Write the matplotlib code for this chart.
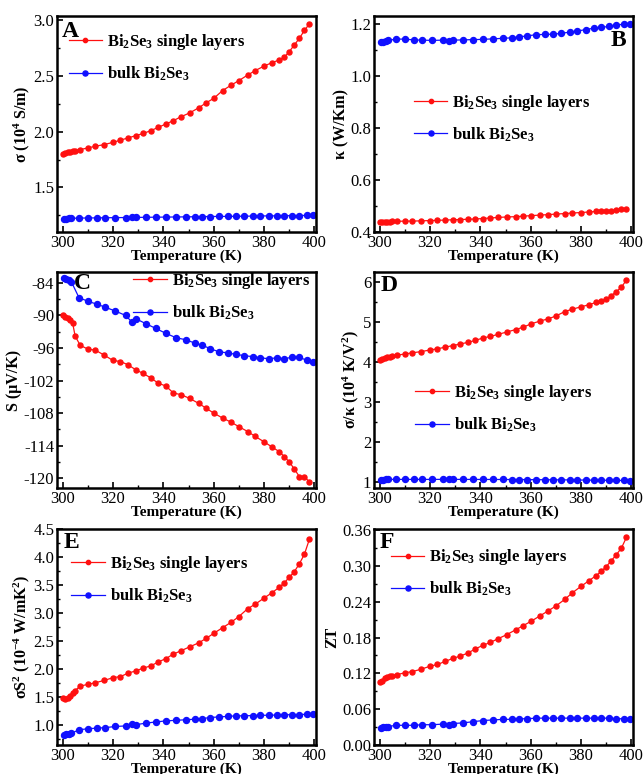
import numpy as np
import matplotlib
matplotlib.use("Agg")
import matplotlib.pyplot as plt
from matplotlib.ticker import MultipleLocator, AutoMinorLocator

plt.rcParams['font.family'] = ['Liberation Serif', 'DejaVu Serif']
plt.rcParams['mathtext.fontset'] = 'custom'
plt.rcParams['mathtext.rm'] = 'Liberation Serif'
plt.rcParams['mathtext.bf'] = 'Liberation Serif:bold'
plt.rcParams['mathtext.it'] = 'Liberation Serif:italic'
plt.rcParams['mathtext.default'] = 'bf'
plt.rcParams['axes.unicode_minus'] = False

## Data (temperature grids for the two samples)
T_layer = [300, 301, 302, 303, 304, 305, 307, 310, 313, 316.5, 320, 323, 326, 329, 332, 335,
           338, 341, 344, 347, 350.5, 354, 357, 360, 363.5, 367, 370, 373.5, 376.5, 380, 383,
           386, 388, 390, 392, 394, 396, 398]
T_bulk = [300.5, 301.5, 302.5, 303.5, 306.5, 310, 313.5, 317, 321, 325, 327.5, 329, 333, 337,
          341, 345, 349, 352.5, 355.5, 358.5, 362, 365.5, 369, 372, 375.5, 378.5, 382, 385,
          388, 391, 394, 397, 399.5]

# A: electrical conductivity (10^4 S/m)
sigma_layer = [1.80, 1.81, 1.815, 1.82, 1.825, 1.83, 1.84, 1.855, 1.87, 1.885, 1.905, 1.925,
               1.945, 1.965, 1.985, 2.01, 2.04, 2.07, 2.10, 2.135, 2.17, 2.215, 2.26, 2.30,
               2.37, 2.42, 2.46, 2.51, 2.55, 2.59, 2.62, 2.645, 2.67, 2.72, 2.78, 2.84, 2.91, 2.97]
sigma_bulk = [1.215, 1.22, 1.222, 1.223, 1.225, 1.226, 1.227, 1.228, 1.229, 1.23, 1.231, 1.231,
              1.232, 1.233, 1.234, 1.235, 1.236, 1.237, 1.238, 1.239, 1.24, 1.24, 1.241, 1.242,
              1.243, 1.244, 1.245, 1.245, 1.246, 1.247, 1.248, 1.249, 1.25]

# B: thermal conductivity (W/Km)
kappa_layer = [0.440, 0.440, 0.440, 0.440, 0.440, 0.441, 0.441, 0.442, 0.442, 0.443, 0.444,
               0.445, 0.446, 0.447, 0.448, 0.449, 0.450, 0.452, 0.454, 0.456, 0.458, 0.459,
               0.461, 0.463, 0.465, 0.467, 0.469, 0.471, 0.473, 0.475, 0.477, 0.479, 0.480,
               0.481, 0.482, 0.484, 0.487, 0.490]
kappa_bulk = [1.130, 1.133, 1.135, 1.138, 1.143, 1.143, 1.140, 1.139, 1.138, 1.139, 1.135,
              1.139, 1.140, 1.141, 1.142, 1.144, 1.146, 1.148, 1.152, 1.155, 1.160, 1.161,
              1.162, 1.165, 1.170, 1.174, 1.180, 1.185, 1.188, 1.192, 1.198, 1.200, 1.200]

# C: Seebeck coefficient (uV/K)
S_layer = [-90.0, -90.2, -90.4, -90.9, -91.4, -93.8, -95.5, -96.2, -96.4, -97.3, -98.3, -98.5,
           -99.1, -100.0, -100.7, -101.5, -102.5, -103.0, -104.3, -104.6, -105.3, -106.2,
           -107.1, -108.0, -108.9, -109.7, -110.5, -111.4, -112.3, -113.3, -114.2, -115.1,
           -116.0, -117.0, -118.3, -119.7, -119.7, -120.7]
S_bulk = [-83.1, -83.3, -83.5, -83.8, -86.7, -87.4, -87.9, -88.5, -89.2, -90.0, -91.2, -90.6,
          -91.5, -92.4, -93.3, -94.1, -94.5, -95.1, -95.5, -96.1, -96.7, -96.9, -97.2, -97.4,
          -97.6, -97.8, -98.0, -97.8, -98.0, -97.7, -97.7, -98.3, -98.6]

# D: sigma/kappa (10^4 K/V^2)
ratio_layer = [4.05, 4.08, 4.10, 4.12, 4.13, 4.15, 4.17, 4.20, 4.23, 4.26, 4.30, 4.33, 4.37,
               4.41, 4.45, 4.49, 4.54, 4.60, 4.64, 4.69, 4.75, 4.81, 4.87, 4.95, 5.02, 5.08,
               5.15, 5.26, 5.32, 5.38, 5.43, 5.49, 5.52, 5.57, 5.66, 5.76, 5.87, 6.05]
ratio_bulk = [1.05, 1.06, 1.065, 1.065, 1.065, 1.065, 1.065, 1.065, 1.065, 1.066, 1.066, 1.066,
              1.065, 1.065, 1.064, 1.064, 1.063, 1.062, 1.061, 1.060, 1.058, 1.057, 1.055,
              1.054, 1.052, 1.050, 1.048, 1.046, 1.044, 1.042, 1.040, 1.038, 1.035]

# E: power factor (10^-4 W/mK^2)
pf_layer = [1.49, 1.47, 1.49, 1.53, 1.57, 1.62, 1.70, 1.73, 1.76, 1.80, 1.85, 1.87, 1.93, 1.97,
            2.02, 2.06, 2.13, 2.19, 2.27, 2.33, 2.40, 2.47, 2.55, 2.64, 2.74, 2.84, 2.94, 3.08,
            3.16, 3.27, 3.36, 3.46, 3.54, 3.64, 3.74, 3.88, 4.05, 4.32]
pf_bulk = [0.83, 0.84, 0.85, 0.86, 0.92, 0.94, 0.95, 0.96, 0.98, 0.99, 1.02, 1.01, 1.04, 1.06,
           1.08, 1.09, 1.10, 1.11, 1.12, 1.14, 1.15, 1.16, 1.17, 1.17, 1.175, 1.18, 1.18, 1.185,
           1.19, 1.19, 1.19, 1.20, 1.20]

# F: figure of merit ZT
zt_layer = [0.105, 0.108, 0.112, 0.114, 0.115, 0.116, 0.118, 0.121, 0.123, 0.127, 0.132, 0.135,
            0.140, 0.145, 0.149, 0.154, 0.161, 0.167, 0.172, 0.178, 0.185, 0.193, 0.200, 0.207,
            0.216, 0.225, 0.233, 0.244, 0.255, 0.266, 0.275, 0.284, 0.291, 0.299, 0.309, 0.319,
            0.330, 0.348]
zt_bulk = [0.029, 0.030, 0.031, 0.031, 0.033, 0.033, 0.033, 0.034, 0.034, 0.035, 0.033, 0.036,
           0.037, 0.039, 0.041, 0.042, 0.043, 0.043, 0.044, 0.044, 0.045, 0.045, 0.045, 0.045,
           0.045, 0.045, 0.045, 0.045, 0.045, 0.045, 0.044, 0.044, 0.044]

labels = [r'Bi$_2$Se$_3$ single layers', r'bulk Bi$_2$Se$_3$']

## Panel settings: (letter, layer data, bulk data, ylabel, ylim, ytick step, letter pos, legend anchor)
panels = [
    ('A', sigma_layer, sigma_bulk, r'σ (10$^4$ S/m)', (1.1, 3.04), 0.5, (0.02, 0.975, 'left'), (0.045, 0.925)),
    ('B', kappa_layer, kappa_bulk, r'κ (W/Km)', (0.4, 1.232), 0.2, (0.975, 0.935, 'right'), (0.155, 0.645)),
    ('C', S_layer, S_bulk, r'S (μV/K)', (-121.8, -82.0), 6, (0.065, 0.995, 'left'), (0.295, 1.005)),
    ('D', ratio_layer, ratio_bulk, r'σ/κ (10$^4$ K/V$^2$)', (0.85, 6.25), 1, (0.025, 0.985, 'left'), (0.16, 0.485)),
    ('E', pf_layer, pf_bulk, r'σS$^2$ (10$^{-4}$ W/mK$^2$)', (0.65, 4.5), 0.5, (0.025, 0.985, 'left'), (0.055, 0.885)),
    ('F', zt_layer, zt_bulk, r'ZT', (0.0, 0.362), 0.06, (0.022, 0.985, 'left'), (0.065, 0.915)),
]

W, H = 644, 774
fig = plt.figure(figsize=(W / 100, H / 100), dpi=100)

col_left = [57, 374]
col_width = 259
row_top = [16, 272, 529]
row_height = 216

for i, (letter, ylay, ybulk, ylab, ylim, ystep, lpos, legpos) in enumerate(panels):
    r, c = divmod(i, 2)
    ax = fig.add_axes([col_left[c] / W, 1 - (row_top[r] + row_height) / H,
                       col_width / W, row_height / H])
    ax.plot(T_layer, ylay, '-o', color='#ff1010', lw=0.9, ms=3.6, label=labels[0])
    ax.plot(T_bulk, ybulk, '-o', color='#1010ff', lw=0.9, ms=4.3, label=labels[1])

    ax.set_xlim(297.8, 400.6)
    ax.set_ylim(*ylim)
    ax.xaxis.set_major_locator(MultipleLocator(20))
    ax.xaxis.set_minor_locator(MultipleLocator(10))
    ax.yaxis.set_major_locator(MultipleLocator(ystep))
    ax.yaxis.set_minor_locator(AutoMinorLocator(2))
    if letter == 'F':
        ax.yaxis.set_major_formatter(matplotlib.ticker.FormatStrFormatter('%.2f'))
    elif letter in ('A', 'B', 'E'):
        ax.yaxis.set_major_formatter(matplotlib.ticker.FormatStrFormatter('%.1f'))
    ax.tick_params(which='both', direction='in', top=False, right=False, labelsize=12, pad=2)
    ax.tick_params(which='major', length=4, width=1.2)
    ax.tick_params(which='minor', length=2.5, width=1.0)
    for s in ax.spines.values():
        s.set_linewidth(1.8)

    ax.set_xlabel('Temperature (K)', fontsize=11, fontweight='bold', labelpad=-1)
    ax.set_ylabel(ylab, fontsize=11.5, fontweight='bold', labelpad=1)

    ax.text(lpos[0], lpos[1], letter, transform=ax.transAxes, ha=lpos[2], va='top',
            fontsize=17, fontweight='bold')
    ax.legend(loc='upper left', bbox_to_anchor=legpos, frameon=False,
              prop={'size': 12, 'weight': 'bold'}, handlelength=2.0, handletextpad=0.3,
              labelspacing=0.75, borderpad=0, borderaxespad=0, markerscale=0.85)

fig.savefig('out.png', dpi=100)
